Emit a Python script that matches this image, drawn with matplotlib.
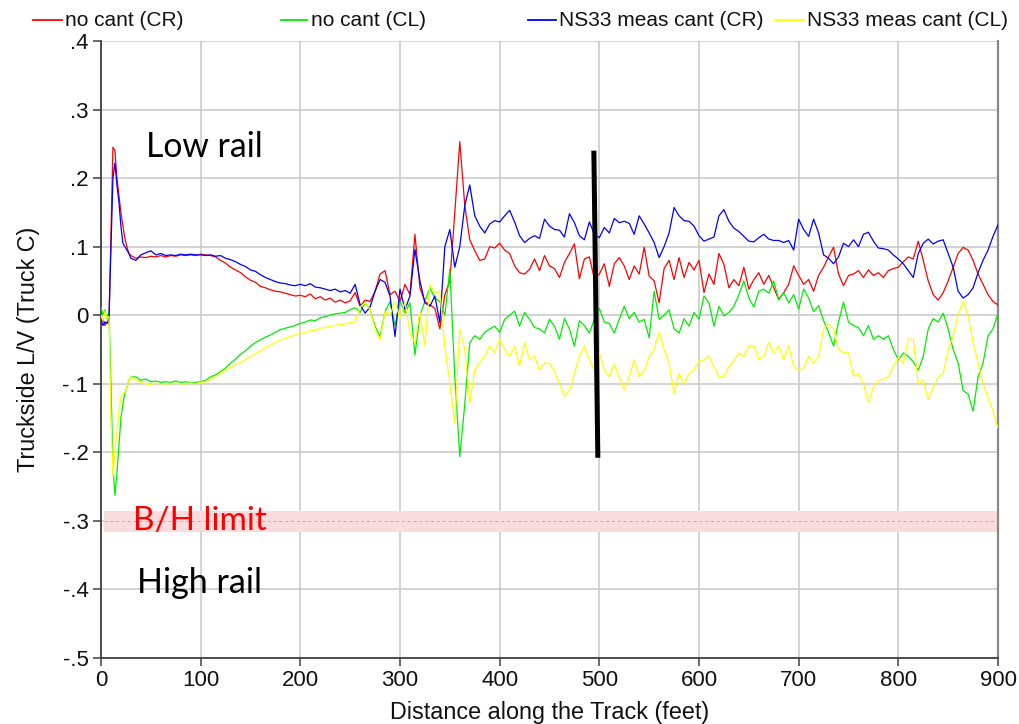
import matplotlib
matplotlib.use("Agg")
import matplotlib.pyplot as plt
from matplotlib.lines import Line2D

# Distance along the track (feet): fine spacing over the entry spike, 5 ft after that
distance = list(range(0, 30, 2)) + list(range(30, 901, 5))

no_cant_cr = [
    -0.010, -0.005, -0.015, -0.010, -0.012, 0.120, 0.245, 0.240, 0.200, 0.175, 0.150, 0.130, 0.112, 0.100, 0.090,
    0.087, 0.083, 0.085, 0.084, 0.086, 0.085, 0.087, 0.085, 0.087, 0.086, 0.088, 0.087, 0.088, 0.087, 0.089,
    0.088, 0.087, 0.085, 0.080, 0.076, 0.070, 0.066, 0.062, 0.056, 0.051, 0.048, 0.042, 0.040, 0.037, 0.035,
    0.034, 0.032, 0.030, 0.028, 0.029,
    0.027, 0.031, 0.024, 0.027, 0.022, 0.025, 0.019, 0.022, 0.018, 0.021, 0.033, 0.013, 0.022, 0.020, 0.035,
    0.060, 0.065, 0.030, 0.035, 0.020, 0.045, 0.030, 0.118, 0.040, 0.020, 0.015, 0.010, -0.020, 0.030, 0.050,
    0.150, 0.253, 0.160, 0.110, 0.094, 0.080, 0.082, 0.100, 0.098, 0.105, 0.095, 0.090, 0.072, 0.062, 0.060,
    0.067, 0.082, 0.065, 0.087, 0.072, 0.068, 0.055, 0.077, 0.090, 0.104, 0.053, 0.082, 0.085, 0.053, 0.060,
    0.075, 0.042, 0.075, 0.084, 0.072, 0.052, 0.072, 0.060, 0.099, 0.057, 0.050, 0.018, 0.068, 0.080, 0.052,
    0.084, 0.055, 0.077, 0.066, 0.080, 0.033, 0.060, 0.045, 0.090, 0.074, 0.040, 0.052, 0.043, 0.070, 0.038,
    0.052, 0.062, 0.045, 0.058, 0.040, 0.023, 0.033, 0.045, 0.072, 0.058, 0.045, 0.052, 0.035, 0.058, 0.070,
    0.085, 0.099, 0.060, 0.043, 0.058, 0.060, 0.065, 0.055, 0.066, 0.058, 0.062, 0.055, 0.065, 0.068, 0.070,
    0.078, 0.085, 0.082, 0.108, 0.080, 0.050, 0.030, 0.022, 0.033, 0.050, 0.070, 0.090, 0.099, 0.095, 0.080,
    0.060, 0.045, 0.030, 0.020, 0.015,
]

no_cant_cl = [
    0.012, 0.000, 0.008, -0.005, 0.005, -0.100, -0.220, -0.263, -0.230, -0.190, -0.150, -0.130, -0.113, -0.105, -0.095,
    -0.090, -0.090, -0.095, -0.093, -0.097, -0.096, -0.098, -0.097, -0.098, -0.096, -0.098, -0.097, -0.099, -0.098, -0.097,
    -0.095, -0.090, -0.087, -0.082, -0.077, -0.070, -0.064, -0.057, -0.052, -0.045, -0.040, -0.036, -0.032, -0.029, -0.025,
    -0.021, -0.019, -0.017, -0.015, -0.012,
    -0.010, -0.007, -0.008, -0.004, -0.002, 0.000, 0.002, 0.003, 0.004, 0.008, 0.011, 0.004, 0.018, 0.008, -0.016,
    -0.031, 0.005, 0.020, -0.015, 0.020, 0.003, 0.018, -0.058, 0.000, 0.020, 0.040, 0.025, 0.020, 0.000, 0.067,
    -0.090, -0.206, -0.130, -0.040, -0.030, -0.035, -0.025, -0.020, -0.016, -0.025, -0.006, 0.000, 0.006, -0.016, 0.004,
    -0.006, -0.018, -0.020, -0.026, -0.006, -0.016, -0.035, -0.005, -0.020, -0.045, -0.008, -0.015, -0.026, -0.006, 0.010,
    -0.010, -0.012, -0.026, -0.006, 0.013, -0.005, 0.004, -0.010, -0.006, -0.033, 0.035, -0.006, 0.000, 0.008, -0.020,
    -0.026, -0.005, -0.016, 0.004, -0.006, 0.028, 0.018, -0.016, 0.013, -0.001, 0.004, 0.013, 0.030, 0.050, 0.025,
    0.012, 0.035, 0.038, 0.032, 0.050, 0.022, 0.033, 0.018, 0.030, 0.009, 0.038, 0.025, 0.005, 0.014, -0.008,
    -0.025, -0.045, -0.010, 0.019, -0.010, -0.015, -0.018, -0.030, -0.015, -0.035, -0.030, -0.035, -0.030, -0.050, -0.065,
    -0.055, -0.060, -0.068, -0.080, -0.060, -0.020, -0.005, -0.010, 0.003, -0.020, -0.050, -0.070, -0.110, -0.115, -0.140,
    -0.090, -0.070, -0.030, -0.020, 0.003,
]

ns33_cr = [
    -0.005, -0.015, -0.010, -0.012, -0.005, 0.100, 0.200, 0.222, 0.190, 0.165, 0.130, 0.105, 0.100, 0.095, 0.090,
    0.083, 0.080, 0.088, 0.091, 0.094, 0.088, 0.090, 0.087, 0.088, 0.087, 0.089, 0.088, 0.089, 0.088, 0.088,
    0.087, 0.088, 0.086, 0.087, 0.083, 0.081, 0.078, 0.074, 0.071, 0.066, 0.064, 0.059, 0.055, 0.052, 0.049,
    0.047, 0.046, 0.044, 0.043, 0.045,
    0.043, 0.046, 0.041, 0.040, 0.038, 0.036, 0.038, 0.034, 0.036, 0.032, 0.045, 0.015, 0.003, 0.012, 0.035,
    0.052, 0.048, 0.028, -0.031, 0.038, 0.008, 0.028, 0.096, 0.050, 0.018, 0.013, 0.028, -0.011, 0.100, 0.125,
    0.070, 0.100, 0.160, 0.190, 0.145, 0.130, 0.120, 0.133, 0.138, 0.136, 0.145, 0.153, 0.136, 0.116, 0.106,
    0.112, 0.116, 0.112, 0.140, 0.130, 0.125, 0.124, 0.114, 0.148, 0.135, 0.116, 0.110, 0.136, 0.118, 0.113,
    0.128, 0.120, 0.141, 0.135, 0.137, 0.134, 0.118, 0.145, 0.133, 0.120, 0.106, 0.084, 0.100, 0.120, 0.157,
    0.145, 0.138, 0.137, 0.130, 0.116, 0.108, 0.111, 0.114, 0.145, 0.154, 0.137, 0.127, 0.122, 0.115, 0.108,
    0.107, 0.113, 0.118, 0.111, 0.109, 0.109, 0.106, 0.109, 0.095, 0.140, 0.125, 0.115, 0.140, 0.120, 0.088,
    0.083, 0.075, 0.085, 0.105, 0.100, 0.110, 0.100, 0.118, 0.121, 0.108, 0.098, 0.097, 0.095, 0.088, 0.082,
    0.075, 0.065, 0.055, 0.090, 0.105, 0.111, 0.104, 0.108, 0.110, 0.090, 0.070, 0.035, 0.025, 0.030, 0.040,
    0.062, 0.080, 0.095, 0.115, 0.132,
]

ns33_cl = [
    0.000, -0.008, 0.006, -0.004, -0.002, -0.150, -0.235, -0.200, -0.170, -0.140, -0.120, -0.115, -0.112, -0.105, -0.095,
    -0.090, -0.094, -0.098, -0.100, -0.101, -0.099, -0.100, -0.100, -0.100, -0.099, -0.100, -0.100, -0.099, -0.100, -0.098,
    -0.097, -0.094, -0.090, -0.085, -0.081, -0.076, -0.072, -0.069, -0.065, -0.060, -0.056, -0.052, -0.047, -0.044, -0.040,
    -0.036, -0.034, -0.031, -0.029, -0.026,
    -0.026, -0.023, -0.022, -0.019, -0.018, -0.016, -0.015, -0.013, -0.013, -0.011, -0.010, 0.012, 0.018, 0.008, -0.020,
    -0.036, 0.005, 0.000, 0.020, -0.005, 0.020, -0.026, -0.040, 0.005, -0.045, 0.045, 0.032, 0.035, -0.045, -0.099,
    -0.158, -0.020, -0.050, -0.128, -0.080, -0.069, -0.060, -0.045, -0.055, -0.035, -0.050, -0.060, -0.045, -0.074, -0.040,
    -0.065, -0.060, -0.080, -0.070, -0.070, -0.082, -0.100, -0.118, -0.110, -0.085, -0.060, -0.045, -0.065, -0.080, -0.055,
    -0.080, -0.090, -0.072, -0.090, -0.109, -0.090, -0.065, -0.090, -0.080, -0.060, -0.050, -0.025, -0.050, -0.070, -0.115,
    -0.085, -0.100, -0.085, -0.080, -0.067, -0.065, -0.060, -0.075, -0.090, -0.090, -0.075, -0.066, -0.055, -0.060, -0.045,
    -0.045, -0.065, -0.060, -0.040, -0.055, -0.045, -0.065, -0.045, -0.075, -0.080, -0.078, -0.060, -0.070, -0.060, -0.020,
    -0.012, -0.020, -0.050, -0.055, -0.055, -0.089, -0.085, -0.100, -0.127, -0.105, -0.095, -0.093, -0.090, -0.075, -0.062,
    -0.070, -0.035, -0.035, -0.100, -0.095, -0.123, -0.105, -0.090, -0.085, -0.050, -0.030, 0.000, 0.020, 0.000, -0.040,
    -0.070, -0.100, -0.120, -0.140, -0.165,
]

series = [
    ("no cant (CR)", no_cant_cr, "#ff0000"),
    ("no cant (CL)", no_cant_cl, "#00ee00"),
    ("NS33 meas cant (CR)", ns33_cr, "#0000ff"),
    ("NS33 meas cant (CL)", ns33_cl, "#ffff00"),
]

x_ticks = list(range(0, 901, 100))
y_ticks = [-0.5, -0.4, -0.3, -0.2, -0.1, 0.0, 0.1, 0.2, 0.3, 0.4]
y_tick_labels = ["-.5", "-.4", "-.3", "-.2", "-.1", "0", ".1", ".2", ".3", ".4"]

bh_limit = -0.3
bh_band = (-0.316, -0.286)
marker_x = [494.5, 498.5]
marker_y = [0.24, -0.208]

fig = plt.figure(figsize=(10.19, 7.24), dpi=100)
ax = fig.add_axes([0.0991, 0.0912, 0.8803, 0.8522])

# B/H limit band and its centre line
ax.fill_between([3, 900], bh_band[0], bh_band[1], color="#fadcde", lw=0, zorder=1)
ax.plot([3, 900], [bh_limit, bh_limit], color="#b0b0b0", lw=0.7, ls=(0, (3, 3)), zorder=1.5)

for label, vals, col in series:
    ax.plot(distance, vals, color=col, lw=0.9, zorder=3)

ax.plot(marker_x, marker_y, color="black", lw=3.6, solid_capstyle="butt", zorder=5)

ax.set_xlim(0, 900)
ax.set_ylim(-0.5, 0.4)
ax.set_xticks(x_ticks)
ax.set_yticks(y_ticks)
ax.set_yticklabels(y_tick_labels)
ax.grid(True, color="#c8c8c8", lw=1.1, zorder=0)
ax.set_axisbelow(True)

for s in ("left", "bottom"):
    ax.spines[s].set_color("#404040")
    ax.spines[s].set_linewidth(1.3)
ax.spines["top"].set_visible(False)
ax.spines["right"].set_color("#888888")
ax.spines["right"].set_linewidth(1.6)
ax.tick_params(axis="both", direction="out", length=6, width=1.1, color="#404040",
               labelsize=16, labelcolor="#111111", pad=3)
sans = ["Liberation Sans", "DejaVu Sans"]
for t in ax.get_xticklabels() + ax.get_yticklabels():
    t.set_family(sans)

ax.set_xlabel("Distance along the Track (feet)", fontsize=16.8, family=sans,
              labelpad=7, color="#111111")
ax.set_ylabel("Truckside L/V (Truck C)", fontsize=16.8, family=sans,
              labelpad=16, color="#111111")

ann_font = ["Lato", "DejaVu Sans"]
ax.text(45, 0.245, "Low rail", fontsize=24.3, family=ann_font, ha="left", va="center", color="black", zorder=6)
ax.text(36, -0.39, "High rail", fontsize=24.5, family=ann_font, ha="left", va="center", color="black", zorder=6)
ax.text(32, -0.2995, "B/H limit", fontsize=24, family=ann_font, ha="left", va="center", color="#ff0000", zorder=6)

# Legend row across the top: (line start, line end, text start) in pixels
leg_pos = [(33, 62, 65), (281, 307, 311), (528, 556, 559), (775, 804, 807)]
W, H = 1019.0, 724.0
ly = 1 - 20 / H
for (label, vals, col), (x0, x1, xt) in zip(series, leg_pos):
    fig.add_artist(Line2D([x0 / W, x1 / W], [ly, ly], color=col, lw=1.3, transform=fig.transFigure))
    fig.text(xt / W, ly, label, ha="left", va="center", color="#111111", family=sans, fontsize=15)

fig.savefig("out.png", dpi=100)
